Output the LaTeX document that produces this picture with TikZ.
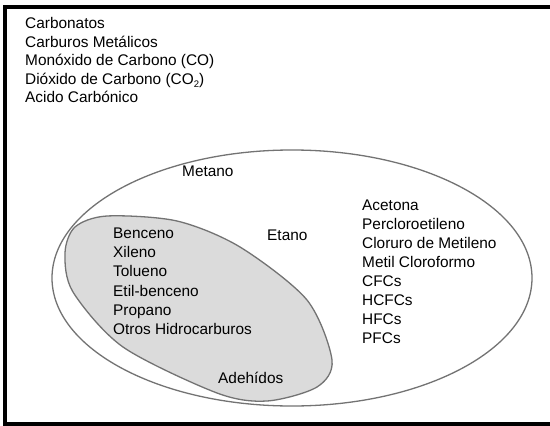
\documentclass[tikz,border=0pt]{standalone}
\usepackage{fontspec}
\setmainfont{Liberation Sans}
\newcommand{\lowsub}[1]{{\fontsize{9.5}{9.5}\selectfont\raisebox{-3pt}{#1}}}
\begin{document}
\begin{tikzpicture}[x=1pt,y=-1pt,
  lbl/.style={anchor=base west,inner sep=0pt,font=\fontsize{15.4}{18}\selectfont},
  setline/.style={draw=black!55,line width=1.3pt}]
\useasboundingbox (0,0) rectangle (550,426);
\fill[white] (0,0) rectangle (550,426);
% frame
\draw[line width=3.6pt] (556,7) -- (5,7) -- (5,424) -- (556,424);
% outer ellipse
\draw[setline] (292,278) ellipse [x radius=240, y radius=128];
% inner grey region
\draw[setline,fill=black!14] plot[smooth cycle,tension=0.5] coordinates {
 (107,216) (177,221) (240,247) (307,300) (332,360) (317,387) (267,401)
 (217,393) (123,347) (73,292) (65,253) (75,227)};
% texts outside
\node[lbl] (t1) at (25,28) {Carbonatos};
\node[lbl] (t2) at (25,47) {Carburos Metálicos};
\node[lbl] (t3) at (25,65.5) {Monóxido de Carbono (CO)};
\node[lbl] (t4) at (25,84) {Dióxido de Carbono (CO\lowsub{2})};
\node[lbl] (t5) at (25,102.5) {Acido Carbónico};
% outer ellipse texts
\node[lbl] (me) at (182,176) {Metano};
\node[lbl] (et) at (267,240) {Etano};
\node[lbl] (r1) at (362,210) {Acetona};
\node[lbl] (r2) at (362,229) {Percloroetileno};
\node[lbl] (r3) at (362,248) {Cloruro de Metileno};
\node[lbl] (r4) at (362,267) {Metil Cloroformo};
\node[lbl] (r5) at (362,286) {CFCs};
\node[lbl] (r6) at (362,305) {HCFCs};
\node[lbl] (r7) at (362,324.5) {HFCs};
\node[lbl] (r8) at (362,343) {PFCs};
% grey region texts
\node[lbl] (g1) at (113,238) {Benceno};
\node[lbl] (g2) at (113,257.5) {Xileno};
\node[lbl] (g3) at (113,276.5) {Tolueno};
\node[lbl] (g4) at (113,296) {Etil-benceno};
\node[lbl] (g5) at (113,315.5) {Propano};
\node[lbl] (g6) at (113,334) {Otros Hidrocarburos};
\node[lbl] (g7) at (218,383) {Adehídos};
\end{tikzpicture}
\end{document}
